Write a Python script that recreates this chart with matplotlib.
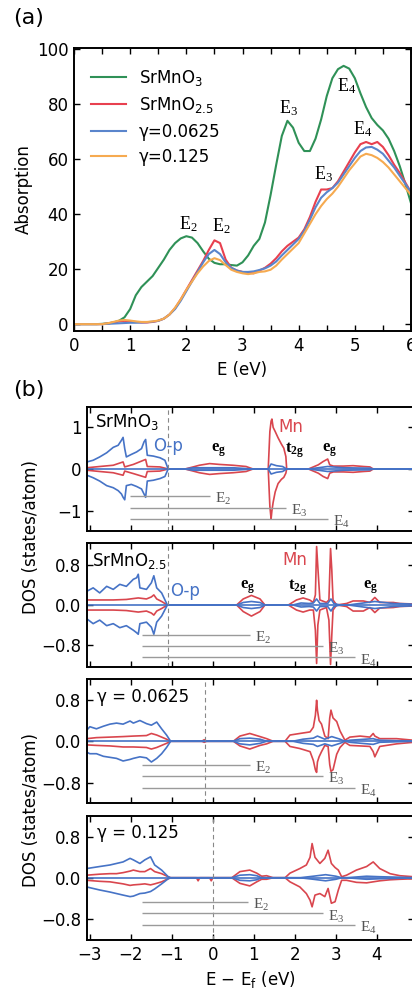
import matplotlib
matplotlib.use("Agg")
import matplotlib.pyplot as plt
from matplotlib.lines import Line2D

plt.rcParams['font.family'] = ['DejaVu Sans']
plt.rcParams['mathtext.fontset'] = 'custom'
plt.rcParams['mathtext.rm'] = 'DejaVu Sans'
plt.rcParams['mathtext.it'] = 'DejaVu Sans:italic'
plt.rcParams['mathtext.sf'] = 'Liberation Serif'
plt.rcParams['mathtext.bf'] = 'Liberation Serif:bold'

# ---------------- panel (a) data ----------------
abs_E = [round(0.1 * i, 1) for i in range(61)]
abs_SrMnO3 = [0, 0, 0, 0, 0, 0.1, 0.3, 0.6, 1.2, 2.5,
              5.5, 10.5, 13.5, 15.5, 17.5, 20.5, 23.5, 27, 29.5, 31.2,
              32, 31.5, 29.5, 26.5, 23.8, 22.3, 21.8, 21.8, 21.5, 21.3,
              22.5, 25, 28.5, 31, 37, 47, 58, 68.5, 74, 71.5,
              66, 63, 63, 67.5, 74.5, 83, 89.5, 92.8, 94, 93,
              89.5, 84, 79, 75, 72.5, 70.5, 67.5, 63, 57.5, 51, 44]
abs_SrMnO25 = [0, 0, 0, 0, 0, 0, 0.2, 0.6, 1.0, 1.2,
               1.0, 0.8, 0.6, 0.6, 0.8, 1.2, 2.0, 3.5, 5.8, 9,
               12.5, 16, 19.5, 23, 27, 30.5, 29.5, 23.5, 20.5, 19.5,
               19, 18.7, 18.5, 19.5, 20.5, 22, 24, 26.5, 28.5, 30,
               31.5, 34.5, 39, 44.5, 49, 49, 49.5, 52, 55.5, 59,
               62.5, 65.5, 66.3, 65.5, 66.3, 64.5, 61.5, 58, 55, 51.5, 48]
abs_g0625 = [0, 0, 0, 0, 0, 0, 0.1, 0.2, 0.3, 0.4,
             0.5, 0.5, 0.6, 0.7, 0.9, 1.2, 2.0, 3.5, 5.5, 8.5,
             12, 15.5, 19, 22.5, 25.5, 27, 25.5, 22.5, 20.5, 19.5,
             19, 19, 19.2, 19.7, 20.3, 21.3, 22.8, 25, 27, 29,
             31, 34, 38, 42.5, 46, 48, 49.5, 51.5, 54.5, 57.5,
             60.5, 63, 64.3, 64.5, 63.5, 62, 59.5, 57, 54, 51, 48]
abs_g125 = [0, 0, 0, 0, 0, 0, 0.3, 0.8, 1.3, 1.5,
            1.3, 1.0, 0.8, 0.8, 1.0, 1.3, 2.0, 3.5, 6, 9,
            12.5, 15.5, 18.5, 21, 23, 24, 23.3, 21.5, 19.8, 19,
            18.5, 18.2, 18.5, 19, 19.2, 19.8, 21.3, 23.5, 25.5, 27.5,
            29.5, 33, 36.5, 40, 43, 45.5, 47.5, 50, 53, 56,
            58.5, 61, 62, 61.5, 60.5, 59, 57, 54.5, 52, 49.5, 47]
abs_labels = ['SrMnO$_3$', 'SrMnO$_{2.5}$', 'γ=0.0625', 'γ=0.125']
abs_colors = ['#2f9157', '#e8404f', '#5a85cc', '#f6aa50']
peak_text = ['E_2', 'E_2', 'E_3', 'E_3', 'E_4', 'E_4']
peak_x = [2.04, 2.63, 3.82, 4.44, 4.85, 5.14]
peak_y = [36.5, 35.5, 78.5, 54.5, 86.5, 70.8]

# ---------------- panel (b) data ----------------
# panel 1: SrMnO3
p1_op_E = [-3.07, -2.92, -2.76, -2.59, -2.43, -2.31, -2.23, -2.19, -2.15, -2.11, -1.99, -1.86, -1.74, -1.68,
           -1.64, -1.60, -1.45, -1.29, -1.17, -1.09,
           -0.68, -0.48, -0.08, 0.49, 0.98,
           1.35, 1.42, 1.55, 1.70, 1.80,
           2.33, 2.57, 2.80, 3.18, 3.83, 3.91, 4.95]
p1_op_up = [0.17, 0.21, 0.29, 0.39, 0.52, 0.57, 0.69, 0.76, 0.49, 0.29, 0.35, 0.41, 0.49, 0.65,
            0.71, 0.33, 0.31, 0.27, 0.21, 0.0,
            0.0, 0.03, 0.03, 0.03, 0.0,
            0.0, 0.12, 0.08, 0.06, 0.0,
            0.0, 0.03, 0.06, 0.03, 0.02, 0.0, 0.0]
p1_op_dn = [-0.15, -0.21, -0.29, -0.40, -0.45, -0.52, -0.60, -0.68, -0.74, -0.40, -0.37, -0.42, -0.48, -0.60,
            -0.68, -0.29, -0.27, -0.23, -0.18, 0.0,
            0.0, -0.03, -0.03, -0.03, 0.0,
            0.0, -0.12, -0.08, -0.06, 0.0,
            0.0, -0.03, -0.06, -0.03, -0.02, 0.0, 0.0]
p1_mn_E = [-3.07, -2.76, -2.43, -2.19, -2.15, -1.94, -1.64, -1.60, -1.29, -1.09,
           -0.68, -0.48, -0.33, -0.08, 0.16, 0.49, 0.81, 0.98,
           1.35, 1.39, 1.42, 1.44, 1.47, 1.52, 1.59, 1.67, 1.73, 1.78, 1.80,
           2.33, 2.45, 2.57, 2.69, 2.80, 2.85, 2.94, 3.18, 3.42, 3.67, 3.83, 3.91]
p1_mn_up = [0.03, 0.06, 0.09, 0.17, 0.05, 0.11, 0.23, 0.06, 0.05, 0.0,
            0.0, 0.05, 0.09, 0.13, 0.11, 0.09, 0.06, 0.0,
            0.0, 0.90, 1.15, 1.20, 1.00, 0.90, 0.75, 0.60, 0.50, 0.30, 0.0,
            0.0, 0.05, 0.10, 0.18, 0.24, 0.10, 0.07, 0.07, 0.08, 0.06, 0.05, 0.0]
p1_mn_dn = [-0.03, -0.06, -0.09, -0.15, -0.05, -0.11, -0.20, -0.06, -0.05, 0.0,
            0.0, -0.05, -0.09, -0.13, -0.11, -0.09, -0.06, 0.0,
            0.0, -0.90, -1.20, -1.00, -0.80, -0.55, -0.35, -0.25, -0.20, -0.10, 0.0,
            0.0, -0.05, -0.10, -0.18, -0.23, -0.10, -0.07, -0.07, -0.08, -0.06, -0.05, 0.0]

# panel 2: SrMnO2.5
p2_op_E = [-3.08, -2.92, -2.76, -2.59, -2.43, -2.27, -2.11, -1.94, -1.86, -1.82, -1.78, -1.62, -1.50, -1.44,
           -1.37, -1.25, -1.11,
           0.58, 0.74, 0.94, 1.15, 1.27,
           1.95, 2.15, 2.35, 2.45, 2.53, 2.61, 2.80, 2.88, 2.95, 3.10,
           3.30, 3.67, 3.95, 4.40, 4.80, 4.95]
p2_op_up = [0.27, 0.34, 0.24, 0.37, 0.31, 0.41, 0.37, 0.51, 0.54, 0.61, 0.34, 0.31, 0.44, 0.58,
            0.34, 0.24, 0.0,
            0.0, 0.05, 0.07, 0.05, 0.0,
            0.0, 0.04, 0.03, 0.04, 0.12, 0.03, 0.03, 0.12, 0.03, 0.0,
            0.0, 0.04, 0.07, 0.03, 0.02, 0.0]
p2_op_dn = [-0.27, -0.37, -0.30, -0.41, -0.37, -0.45, -0.41, -0.50, -0.55, -0.58, -0.37, -0.34, -0.44, -0.58,
            -0.34, -0.22, 0.0,
            0.0, -0.05, -0.07, -0.05, 0.0,
            0.0, -0.04, -0.03, -0.04, -0.12, -0.03, -0.03, -0.12, -0.03, 0.0,
            0.0, -0.04, -0.07, -0.03, -0.02, 0.0]
p2_mn_E = [-3.08, -2.76, -2.43, -2.11, -1.82, -1.62, -1.50, -1.44, -1.37, -1.25, -1.11,
           0.58, 0.74, 0.94, 1.15, 1.27,
           1.84, 2.04, 2.20, 2.36, 2.45, 2.50, 2.53, 2.56, 2.61, 2.77, 2.83, 2.87, 2.90, 2.93, 3.02,
           3.26, 3.42, 3.67, 3.83, 3.95, 4.07, 4.40, 4.56, 4.89]
p2_mn_up = [0.10, 0.10, 0.10, 0.11, 0.14, 0.12, 0.16, 0.20, 0.12, 0.07, 0.0,
            0.0, 0.12, 0.19, 0.12, 0.0,
            0.0, 0.10, 0.14, 0.10, 0.05, 0.20, 1.16, 0.75, 0.10, 0.05, 0.10, 1.12, 0.70, 0.10, 0.0,
            0.03, 0.08, 0.08, 0.05, 0.15, 0.05, 0.05, 0.03, 0.02]
p2_mn_dn = [-0.10, -0.10, -0.10, -0.11, -0.14, -0.12, -0.16, -0.20, -0.12, -0.07, 0.0,
            0.0, -0.13, -0.22, -0.13, 0.0,
            0.0, -0.10, -0.14, -0.10, -0.10, -0.50, -1.16, -0.40, -0.10, -0.05, -0.30, -1.18, -0.60, -0.10, 0.0,
            -0.03, -0.12, -0.12, -0.05, -0.15, -0.06, -0.05, -0.03, -0.02]

# panel 3: gamma = 0.0625
p3_op_E = [-3.08, -3.00, -2.84, -2.67, -2.51, -2.35, -2.19, -2.02, -1.94, -1.78, -1.62, -1.50, -1.37, -1.25,
           -1.13, -1.03,
           0.50, 0.66, 0.90, 1.15, 1.31,
           1.95, 2.20, 2.45, 2.55, 2.73, 2.90, 3.10, 3.22,
           3.34, 3.91, 3.95, 4.07, 4.48, 4.95]
p3_op_up = [0.21, 0.28, 0.24, 0.29, 0.33, 0.35, 0.33, 0.39, 0.35, 0.40, 0.34, 0.31, 0.37, 0.24,
            0.12, 0.0,
            0.0, 0.05, 0.06, 0.04, 0.0,
            0.0, 0.04, 0.06, 0.10, 0.04, 0.09, 0.04, 0.0,
            0.02, 0.05, 0.04, 0.02, 0.01, 0.0]
p3_op_dn = [-0.21, -0.24, -0.24, -0.29, -0.31, -0.33, -0.38, -0.35, -0.33, -0.30, -0.32, -0.40, -0.33, -0.24,
            -0.12, 0.0,
            0.0, -0.05, -0.07, -0.04, 0.0,
            0.0, -0.04, -0.06, -0.10, -0.05, -0.09, -0.04, 0.0,
            -0.02, -0.06, -0.05, -0.02, -0.01, 0.0]
p3_mn_E = [-3.08, -2.84, -2.51, -2.19, -1.94, -1.62, -1.50, -1.37, -1.25, -1.13, -1.03,
           -0.27, -0.21, -0.15,
           0.50, 0.66, 0.90, 1.15, 1.31, 1.47,
           1.76, 1.88, 2.12, 2.37, 2.45, 2.50, 2.53, 2.55, 2.59, 2.65, 2.73, 2.81, 2.85, 2.88, 2.93, 3.02,
           3.10, 3.22,
           3.34, 3.59, 3.83, 3.91, 3.95, 4.07, 4.48, 4.89]
p3_mn_up = [0.05, 0.07, 0.08, 0.09, 0.10, 0.11, 0.15, 0.12, 0.08, 0.04, 0.0,
            0.0, 0.03, 0.0,
            0.0, 0.10, 0.15, 0.09, 0.05, 0.0,
            0.0, 0.12, 0.15, 0.18, 0.27, 0.50, 0.79, 0.60, 0.40, 0.33, 0.10, 0.05, 0.45, 0.60, 0.45, 0.38,
            0.20, 0.02,
            0.08, 0.10, 0.08, 0.15, 0.10, 0.05, 0.05, 0.02]
p3_mn_dn = [-0.07, -0.08, -0.09, -0.11, -0.11, -0.12, -0.15, -0.12, -0.08, -0.04, 0.0,
            0.0, -0.02, 0.0,
            0.0, -0.09, -0.15, -0.08, -0.05, 0.0,
            0.0, -0.10, -0.14, -0.20, -0.37, -0.55, -0.60, -0.40, -0.30, -0.20, -0.08, -0.10, -0.45, -0.58,
            -0.55, -0.25, -0.12, -0.02,
            -0.08, -0.09, -0.10, -0.20, -0.30, -0.10, -0.05, -0.02]

# panel 4: gamma = 0.125
p4_op_E = [-3.08, -2.76, -2.51, -2.35, -2.19, -2.02, -1.94, -1.78, -1.66, -1.52, -1.42, -1.25, -1.09, -1.03,
           0.46, 0.66, 0.90, 1.07, 1.19,
           2.12, 2.45, 2.75, 3.00, 3.14,
           3.26, 3.75, 4.07, 4.56, 4.95]
p4_op_up = [0.18, 0.22, 0.25, 0.28, 0.31, 0.38, 0.35, 0.28, 0.35, 0.41, 0.25, 0.15, 0.02, 0.0,
            0.0, 0.05, 0.06, 0.04, 0.0,
            0.0, 0.03, 0.06, 0.03, 0.0,
            0.0, 0.03, 0.02, 0.01, 0.0]
p4_op_dn = [-0.18, -0.24, -0.28, -0.31, -0.34, -0.37, -0.36, -0.31, -0.30, -0.27, -0.22, -0.12, -0.02, 0.0,
            0.0, -0.05, -0.06, -0.04, 0.0,
            0.0, -0.03, -0.06, -0.03, 0.0,
            0.0, -0.03, -0.02, -0.01, 0.0]
p4_mn_E = [-3.08, -2.76, -2.51, -2.35, -2.19, -2.02, -1.94, -1.78, -1.66, -1.52, -1.42, -1.25, -1.09, -1.03,
           -0.40, -0.36, -0.32, -0.08, -0.04, 0.0,
           0.46, 0.66, 0.90, 1.07, 1.19, 1.31, 1.47,
           1.76, 1.88, 2.12, 2.28, 2.37, 2.42, 2.49, 2.61, 2.73, 2.81, 2.89, 2.98, 3.06, 3.14,
           3.26, 3.50, 3.75, 3.91, 4.07, 4.32, 4.56, 4.89]
p4_mn_up = [0.05, 0.07, 0.08, 0.08, 0.10, 0.13, 0.15, 0.12, 0.12, 0.18, 0.12, 0.08, 0.02, 0.0,
            0.0, 0.0, 0.0, 0.0, 0.0, 0.0,
            0.0, 0.12, 0.15, 0.09, 0.03, 0.04, 0.0,
            0.0, 0.09, 0.18, 0.25, 0.40, 0.67, 0.40, 0.28, 0.38, 0.54, 0.28, 0.20, 0.15, 0.02,
            0.05, 0.15, 0.22, 0.31, 0.18, 0.08, 0.04, 0.02]
p4_mn_dn = [-0.05, -0.07, -0.08, -0.10, -0.12, -0.15, -0.14, -0.13, -0.12, -0.14, -0.12, -0.08, -0.02, 0.0,
            0.0, -0.06, 0.0, 0.0, -0.06, 0.0,
            0.0, -0.11, -0.16, -0.08, -0.03, -0.03, 0.0,
            0.0, -0.08, -0.18, -0.31, -0.44, -0.57, -0.34, -0.31, -0.37, -0.21, -0.50, -0.47, -0.24, -0.05,
            -0.05, -0.09, -0.10, -0.08, -0.06, -0.04, -0.03, -0.02]

dos_E = [(p1_op_E, p1_mn_E), (p2_op_E, p2_mn_E), (p3_op_E, p3_mn_E), (p4_op_E, p4_mn_E)]
dos_op = [(p1_op_up, p1_op_dn), (p2_op_up, p2_op_dn), (p3_op_up, p3_op_dn), (p4_op_up, p4_op_dn)]
dos_mn = [(p1_mn_up, p1_mn_dn), (p2_mn_up, p2_mn_dn), (p3_mn_up, p3_mn_dn), (p4_mn_up, p4_mn_dn)]

fermi_x = [-1.09, -1.10, -0.20, 0.0]
trans_start = [-2.01, -1.72, -1.72, -1.72]
trans_end = [[-0.06, 1.78, 2.81], [0.90, 2.69, 3.46], [0.90, 2.69, 3.46], [0.86, 2.69, 3.46]]
trans_y = [[-0.65, -0.93, -1.21], [-0.59, -0.82, -1.04], [-0.46, -0.67, -0.90], [-0.48, -0.70, -0.93]]
trans_names = ['E_2', 'E_3', 'E_4']
panel_names = ['SrMnO$_3$', 'SrMnO$_{2.5}$', 'γ = 0.0625', 'γ = 0.125']
panel_ylim = [(-1.49, 1.49), (-1.23, 1.23), (-1.19, 1.20), (-1.22, 1.21)]
panel_yticks = [[-1, 0, 1], [-0.8, 0, 0.8], [-0.8, 0, 0.8], [-0.8, 0, 0.8]]

RED = '#d9464e'
BLUE = '#4673c6'
W, H = 412, 991

fig = plt.figure(figsize=(W / 100, H / 100), dpi=100)


def add_ax(left, right, top, bottom):
    return fig.add_axes([left / W, 1 - bottom / H, (right - left) / W, (bottom - top) / H])


def style(ax):
    for s in ax.spines.values():
        s.set_linewidth(1.4)
    ax.tick_params(which='both', direction='in', top=True, right=True, length=4, width=1.0,
                   labelsize=12, pad=4)


# ---------------- panel (a) ----------------
axa = add_ax(74, 411, 48, 331)
series = [abs_SrMnO3, abs_SrMnO25, abs_g0625, abs_g125]
handles = []
for vals, lab, col in zip(series, abs_labels, abs_colors):
    ln, = axa.plot(abs_E, vals, color=col, lw=1.5, label=lab)
    handles.append(ln)
axa.set_xlim(0, 6)
axa.set_ylim(-2.5, 100.5)
axa.set_xticks([0, 1, 2, 3, 4, 5, 6])
axa.set_xticks([0.5, 1.5, 2.5, 3.5, 4.5, 5.5], minor=True)
axa.set_yticks([0, 20, 40, 60, 80, 100])
style(axa)
axa.set_ylabel('Absorption', fontsize=12, labelpad=3)
for t, x, y in zip(peak_text, peak_x, peak_y):
    axa.text(x, y, r'$\mathsf{' + t + '}$', fontsize=13, ha='center', va='center')
axa.legend(handles=handles, loc='upper left', bbox_to_anchor=(0.05, 0.93), frameon=False,
           handlelength=2.1, handletextpad=0.8, labelspacing=0.45, borderaxespad=0, borderpad=0,
           fontsize=12)
fig.text(242 / W, 1 - 370 / H, 'E (eV)', ha='center', va='center', fontsize=12)
fig.text(29 / W, 1 - 18 / H, '(a)', ha='center', va='center', fontsize=16)
fig.text(29 / W, 1 - 390 / H, '(b)', ha='center', va='center', fontsize=16)

# ---------------- panel (b) ----------------
tops = [407, 543, 679, 816]
bots = [531, 667, 803, 940]
axes_b = []
for i in range(4):
    ax = add_ax(87, 414.2, tops[i], bots[i])
    axes_b.append(ax)
    eop, emn = dos_E[i]
    mup, mdn = dos_mn[i]
    oup, odn = dos_op[i]
    ax.plot(emn, mup, color=RED, lw=1.2)
    ax.plot(emn, mdn, color=RED, lw=1.2)
    ax.plot(eop, oup, color=BLUE, lw=1.2)
    ax.plot(eop, odn, color=BLUE, lw=1.2)
    ax.axhline(0, color=BLUE, lw=1.2)
    ax.axvline(fermi_x[i], color='#888888', lw=0.8, ls=(0, (4, 3)))
    for k in range(3):
        ax.hlines(trans_y[i][k], trans_start[i], trans_end[i][k], color='#9a9a9a', lw=1.0)
        ax.text(trans_end[i][k] + 0.12, trans_y[i][k] - 0.05 * (panel_ylim[i][1]),
                r'$\mathsf{' + trans_names[k] + '}$', fontsize=11, color='#555555',
                ha='left', va='center')
    ax.set_xlim(-3.07, 4.91)
    ax.set_ylim(*panel_ylim[i])
    ax.set_xticks([-3, -2, -1, 0, 1, 2, 3, 4])
    ax.set_yticks(panel_yticks[i])
    style(ax)
    if i < 3:
        ax.tick_params(labelbottom=False)

# panel annotations
a1, a2, a3, a4 = axes_b
a1.text(-2.88, 1.12, panel_names[0], fontsize=12, ha='left', va='center')
a1.text(1.60, 1.00, 'Mn', fontsize=12, color=RED, ha='left', va='center')
a1.text(-1.46, 0.56, 'O-p', fontsize=12, color=BLUE, ha='left', va='center')
a1.text(0.15, 0.46, r'$\mathbf{e_g}$', fontsize=12, ha='center', va='center')
a1.text(2.00, 0.46, r'$\mathbf{t_{2g}}$', fontsize=12, ha='center', va='center')
a1.text(2.85, 0.46, r'$\mathbf{e_g}$', fontsize=12, ha='center', va='center')

a2.text(-2.95, 0.88, panel_names[1], fontsize=12, ha='left', va='center')
a2.text(2.00, 0.89, 'Mn', fontsize=12, color=RED, ha='center', va='center')
a2.text(-1.05, 0.28, 'O-p', fontsize=12, color=BLUE, ha='left', va='center')
a2.text(0.84, 0.36, r'$\mathbf{e_g}$', fontsize=12, ha='center', va='center')
a2.text(2.07, 0.36, r'$\mathbf{t_{2g}}$', fontsize=12, ha='center', va='center')
a2.text(3.85, 0.36, r'$\mathbf{e_g}$', fontsize=12, ha='center', va='center')

a3.text(-2.83, 0.85, panel_names[2], fontsize=12, ha='left', va='center')
a4.text(-2.83, 0.87, panel_names[3], fontsize=12, ha='left', va='center')

a4.tick_params(labelbottom=True)
fig.text(250 / W, 1 - 979 / H, r'E $-$ E$_\mathrm{f}$ (eV)', ha='center', va='center', fontsize=12)
fig.text(31 / W, 1 - 537 / H, 'DOS (states/atom)', rotation=90, ha='center', va='center', fontsize=12)
fig.text(31 / W, 1 - 810 / H, 'DOS (states/atom)', rotation=90, ha='center', va='center', fontsize=12)

fig.savefig('out.png', dpi=100)
